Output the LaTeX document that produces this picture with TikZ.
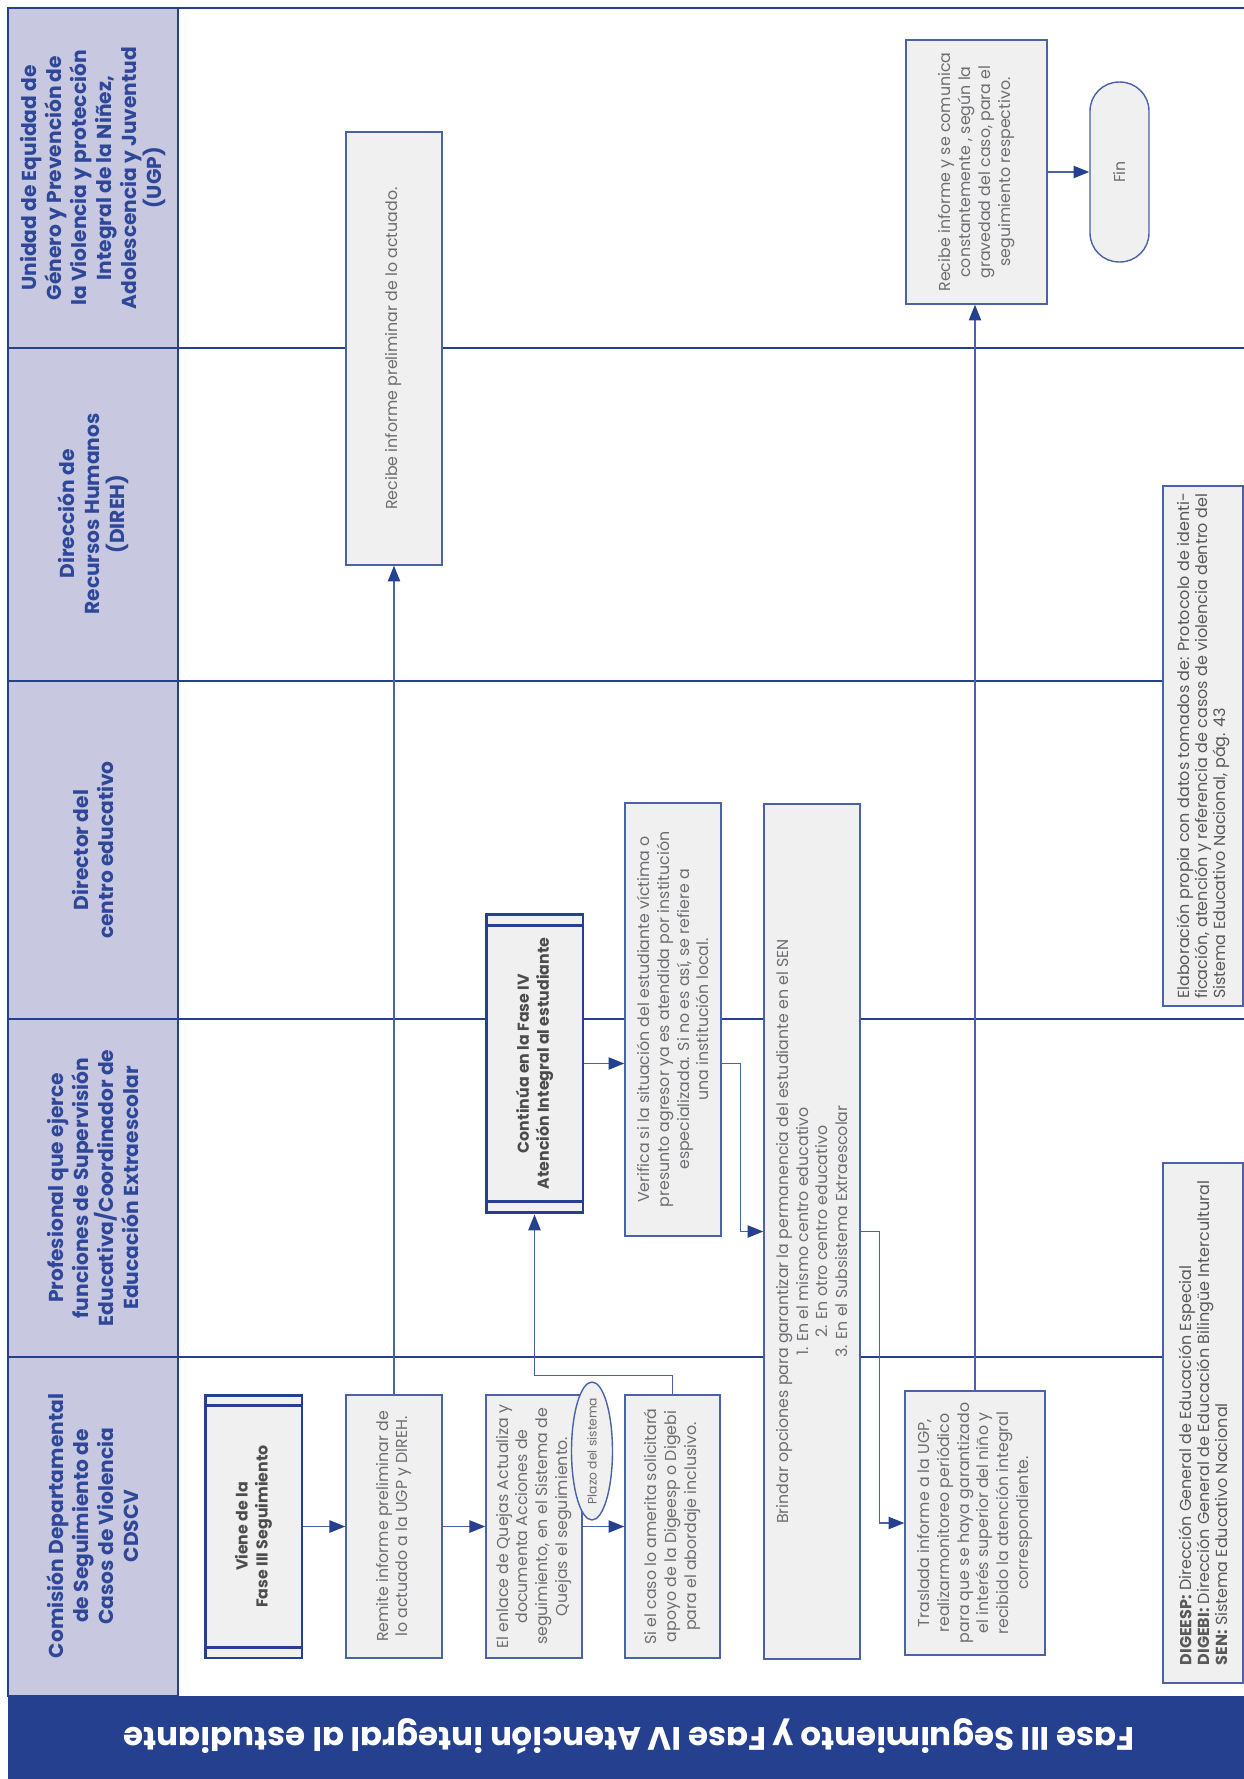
\documentclass[tikz,border=0pt]{standalone}
\usepackage{fontspec}
\setmainfont{Poppins}
\usetikzlibrary{arrows.meta}
\usetikzlibrary{shapes.geometric}
\definecolor{azul}{HTML}{24408E}
\definecolor{azulcaja}{HTML}{4A62A8}
\definecolor{lila}{HTML}{C9C8E1}
\definecolor{gris}{HTML}{F0F0F0}
\definecolor{texto}{HTML}{6D6E71}
\definecolor{textocab}{HTML}{2E4799}

\begin{document}
\begin{tikzpicture}[x={(0.02cm,0)},y={(0,-0.02cm)},
    carril/.style={azul,line width=1.6pt},
    cab/.style={rotate=90,align=center,text=textocab,font=\fontsize{11.5}{14.2}\selectfont\bfseries},
    caja/.style={draw=azulcaja,fill=gris,line width=0.8pt,rotate=90,align=center,text=texto,inner sep=2pt,font=\fontsize{9}{11.3}\selectfont},
    subp/.style={caja,draw=azul,line width=1.7pt,text=black!70,font=\fontsize{9}{11.3}\selectfont\bfseries},
    nota/.style={caja,align=left,text=black!65,font=\fontsize{9.1}{10.2}\selectfont},
    barra/.style={azul,line width=1.7pt},
    flecha/.style={azulcaja,line width=0.85pt,-{Triangle[length=9pt,width=7pt,color=azul]}}]
        \useasboundingbox (0,0) rectangle (1244,1779);
        % carriles
        \filldraw[fill=lila,draw=azul,line width=1.6pt] (8,8) rectangle (178,1696);
        \draw[carril] (8,8) -- (1244,8);
        \foreach \y in {348,681,1019,1357} {
          \draw[carril] (8,\y) -- (1244,\y);
        }
        \fill[azul] (8,1696) rectangle (1244,1779);
        \node[rotate=180,text=white,font=\fontsize{18.5}{22}\selectfont\bfseries] (titulo) at (629,1737)
          {Fase III Seguimiento y Fase IV Atención integral al estudiante};
        \node[cab] (cugp) at (93,178) {Unidad de Equidad de\\Género y Prevención de\\la Violencia y protección\\Integral de la Niñez,\\Adolescencia y Juventud\\(UGP)};
        \node[cab] (cdireh) at (93,514) {Dirección de\\Recursos Humanos\\(DIREH)};
        \node[cab] (cdir) at (93,850) {Director del\\centro educativo};
        \node[cab] (cprof) at (93,1188) {Profesional que ejerce\\funciones de Supervisión\\Educativa/Coordinador de\\Educación Extraescolar};
        \node[cab] (ccdscv) at (93,1526) {Comisión Departamental\\de Seguimiento de\\Casos de Violencia\\CDSCV};
        % CDSCV
        \node[subp,minimum width=5.26cm,minimum height=1.94cm] (viene) at (253.5,1526.5) {Viene de la\\Fase III Seguimiento};
        \node[caja,minimum width=5.26cm,minimum height=1.92cm] (remite) at (394,1526.5) {Remite informe preliminar de\\lo actuado a la UGP y DIREH.};
        \node[caja,minimum width=5.26cm,minimum height=1.92cm] (enlace) at (534,1526.5) {El enlace de Quejas Actualiza y\\documenta Acciones de\\seguimiento, en el Sistema de\\Quejas el seguimiento.};
        \node[caja,shape=ellipse,inner sep=0pt,minimum width=2.76cm,minimum height=0.82cm,font=\fontsize{7}{8}\selectfont] (plazo) at (592,1451) {\makebox[0pt]{Plazo del sistema}};
        \node[caja,minimum width=5.26cm,minimum height=1.9cm] (sicaso) at (672.5,1526.5) {Si el caso lo amerita solicitará\\apoyo de la Digeesp o Digebi\\para el abordaje inclusivo.};
        \node[caja,minimum width=17.1cm,minimum height=1.92cm] (brindar) at (812,1231.5) {Brindar opciones para garantizar la permanencia del estudiante en el SEN\\1. En el mismo centro educativo\\2. En otro centro educativo\\3. En el Subsistema Extraescolar};
        \node[caja,minimum width=5.28cm,minimum height=2.8cm] (traslada) at (975,1523) {Traslada informe a la UGP,\\realizarmonitoreo periódico\\para que se haya garantizado\\el interés superior del niño y\\recibido la atención integral\\correspondiente.};
        % Profesional / Director
        \node[subp,minimum width=5.98cm,minimum height=1.94cm] (continua) at (534.5,1063.5) {Continúa en la Fase IV\\Atención Integral al estudiante};
        \node[caja,minimum width=8.66cm,minimum height=1.92cm] (verifica) at (673,1019.5) {Verifica si la situación del estudiante víctima o\\presunto agresor ya es atendida por institución\\especializada. Si no es así, se refiere a\\una institución local.};
        % DIREH y UGP
        \node[caja,minimum width=8.66cm,minimum height=1.92cm] (direh) at (394,348.5) {Recibe informe preliminar de lo actuado.};
        \node[caja,minimum width=5.28cm,minimum height=2.82cm] (ugp) at (976.5,172) {Recibe informe y se comunica\\constantemente , según la\\gravedad del caso, para el\\seguimiento respectivo.};
        \node[caja,rounded corners=0.58cm,minimum width=3.6cm,minimum height=1.18cm] (fin) at (1119.5,172) {Fin};
        % notas
        \node[nota,minimum width=10.4cm,minimum height=1.6cm] (nota1) at (1203,1423) {\textbf{DIGEESP:} Dirección General de Educación Especial\\\textbf{DIGEBI:} Dirección General de Educación Bilingüe Intercultural\\\textbf{SEN:} Sistema Educativo Nacional};
        \node[nota,minimum width=10.4cm,minimum height=1.6cm] (nota2) at (1203,746) {Elaboración propia con datos tomados de: Protocolo de identi-\\ficación, atención y referencia de casos de violencia dentro del\\Sistema Educativo Nacional, pág. 43};
        \foreach \n/\d in {viene/0.24cm,continua/0.26cm} {
          \draw[barra] ([yshift=\d]\n.north west) -- ([yshift=\d]\n.south west);
          \draw[barra] ([yshift=-\d]\n.north east) -- ([yshift=-\d]\n.south east);
        }
        % conectores
        \draw[flecha] (viene.south) -- (remite.north);
        \draw[flecha] (remite.south) -- (enlace.north);
        \draw[flecha] (enlace.south) -- (sicaso.north);
        \draw[flecha] (sicaso.east) -- ++(0,-19) -| (continua.west);
        \draw[flecha] (remite.east) -- (direh.west);
        \draw[flecha] (continua.south) -- (continua.south -| verifica.north);
        \draw[flecha] (verifica.south |- continua.south) -- ++(19,0) |- (brindar.north);
        \draw[flecha] (brindar.south) -- ++(19,0) |- (traslada.north);
        \draw[flecha] (traslada.east) -- (traslada.east |- ugp.west);
        \draw[flecha] (ugp.south) -- (fin.north);
\end{tikzpicture}
\end{document}
